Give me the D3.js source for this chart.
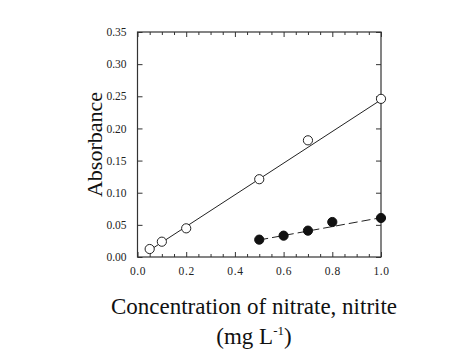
<!DOCTYPE html>
<html><head><meta charset="utf-8">
<script src="https://cdn.jsdelivr.net/npm/d3@7"></script>
<style>body{margin:0;background:#fff;} svg{display:block;}</style>
</head><body>
<svg id="c" width="474" height="356"></svg>
<script>
const nitrateX = [0.05, 0.1, 0.2, 0.5, 0.7, 1.0];
const nitrateY = [0.0124, 0.0238, 0.0446, 0.121, 0.1815, 0.246];
const nitriteX = [0.5, 0.6, 0.7, 0.8, 1.0];
const nitriteY = [0.027, 0.0332, 0.041, 0.0544, 0.0607];
const nitrateFitX = [0.05, 1.0];
const nitrateFitY = [0.0105, 0.2445];
const nitriteFitX = [0.5, 1.0];
const nitriteFitY = [0.0265, 0.0612];
const xTicks = [0, 0.2, 0.4, 0.6, 0.8, 1.0];
const xTickLabels = ["0.0", "0.2", "0.4", "0.6", "0.8", "1.0"];
const yTicks = [0, 0.05, 0.1, 0.15, 0.2, 0.25, 0.3, 0.35];
const yTickLabels = ["0.00", "0.05", "0.10", "0.15", "0.20", "0.25", "0.30", "0.35"];
const xMinor = [0.05,0.1,0.15,0.25,0.3,0.35,0.45,0.5,0.55,0.65,0.7,0.75,0.85,0.9,0.95];

const L = 137.5, R = 381, T = 32, B = 257;
const svg = d3.select("#c");
const x = d3.scaleLinear().domain([0, 1.0]).range([L, R]);
const y = d3.scaleLinear().domain([0, 0.35]).range([B, T]);
const font = "'Liberation Serif', 'Times New Roman', serif";
const ink = "#222";

// frame
svg.append("rect").attr("x", L).attr("y", T).attr("width", R - L).attr("height", B - T)
  .attr("fill", "none").attr("stroke", "#333").attr("stroke-width", 1.2);

// bottom axis (ticks inward)
const xb = svg.append("g").attr("transform", `translate(0,${B})`)
  .call(d3.axisBottom(x).tickValues(xTicks).tickSize(-5).tickPadding(10)
    .tickFormat((d, i) => xTickLabels[i]));
xb.select(".domain").remove();
xb.selectAll("line").attr("stroke", "#333");
xb.selectAll("text").attr("font-family", font).attr("font-size", 11.5).attr("fill", ink)
  .attr("letter-spacing", 0.6);
svg.append("g").attr("transform", `translate(0,${B})`)
  .call(d3.axisBottom(x).tickValues(xMinor).tickSize(-3).tickFormat(""))
  .call(g => g.select(".domain").remove()).selectAll("line").attr("stroke", "#333");
// top axis
svg.append("g").attr("transform", `translate(0,${T})`)
  .call(d3.axisTop(x).tickValues(xTicks).tickSize(-5).tickFormat(""))
  .call(g => g.select(".domain").remove()).selectAll("line").attr("stroke", "#333");
svg.append("g").attr("transform", `translate(0,${T})`)
  .call(d3.axisTop(x).tickValues(xMinor).tickSize(-3).tickFormat(""))
  .call(g => g.select(".domain").remove()).selectAll("line").attr("stroke", "#333");

// left axis
const yl = svg.append("g").attr("transform", `translate(${L},0)`)
  .call(d3.axisLeft(y).tickValues(yTicks).tickSize(-5).tickPadding(11)
    .tickFormat((d, i) => yTickLabels[i]));
yl.select(".domain").remove();
yl.selectAll("line").attr("stroke", "#333");
yl.selectAll("text").attr("font-family", font).attr("font-size", 11.5).attr("fill", ink);
// right axis
svg.append("g").attr("transform", `translate(${R},0)`)
  .call(d3.axisRight(y).tickValues(yTicks).tickSize(-5).tickFormat(""))
  .call(g => g.select(".domain").remove()).selectAll("line").attr("stroke", "#333");

// fit lines
const line = d3.line().x(d => x(d[0])).y(d => y(d[1]));
svg.append("path").datum(nitrateFitX.map((v, i) => [v, nitrateFitY[i]]))
  .attr("d", line).attr("fill", "none").attr("stroke", "#222").attr("stroke-width", 1);
svg.append("path").datum(nitriteFitX.map((v, i) => [v, nitriteFitY[i]]))
  .attr("d", line).attr("fill", "none").attr("stroke", "#222").attr("stroke-width", 1)
  .attr("stroke-dasharray", "9,4");

// points
svg.append("g").selectAll("circle").data(nitrateX.map((v, i) => [v, nitrateY[i]]))
  .join("circle").attr("cx", d => x(d[0])).attr("cy", d => y(d[1])).attr("r", 4.6)
  .attr("fill", "#fff").attr("stroke", "#222").attr("stroke-width", 1);
svg.append("g").selectAll("circle").data(nitriteX.map((v, i) => [v, nitriteY[i]]))
  .join("circle").attr("cx", d => x(d[0])).attr("cy", d => y(d[1])).attr("r", 4.6)
  .attr("fill", "#111").attr("stroke", "#111").attr("stroke-width", 1);

// axis titles
svg.append("text").attr("transform", `translate(102,${(T + B) / 2}) rotate(-90)`)
  .attr("text-anchor", "middle").attr("font-family", font).attr("font-size", 22).attr("fill", "#111")
  .text("Absorbance");
svg.append("text").attr("x", 254).attr("y", 314).attr("text-anchor", "middle")
  .attr("font-family", font).attr("font-size", 23).attr("fill", "#111")
  .text("Concentration of nitrate, nitrite");
const t2 = svg.append("text").attr("x", 254).attr("y", 344).attr("text-anchor", "middle")
  .attr("font-family", font).attr("font-size", 23).attr("fill", "#111");
t2.append("tspan").text("(mg L");
t2.append("tspan").attr("font-size", 13).attr("dy", -9).text("-1");
t2.append("tspan").attr("dy", 9).text(")");
</script>
</body></html>
